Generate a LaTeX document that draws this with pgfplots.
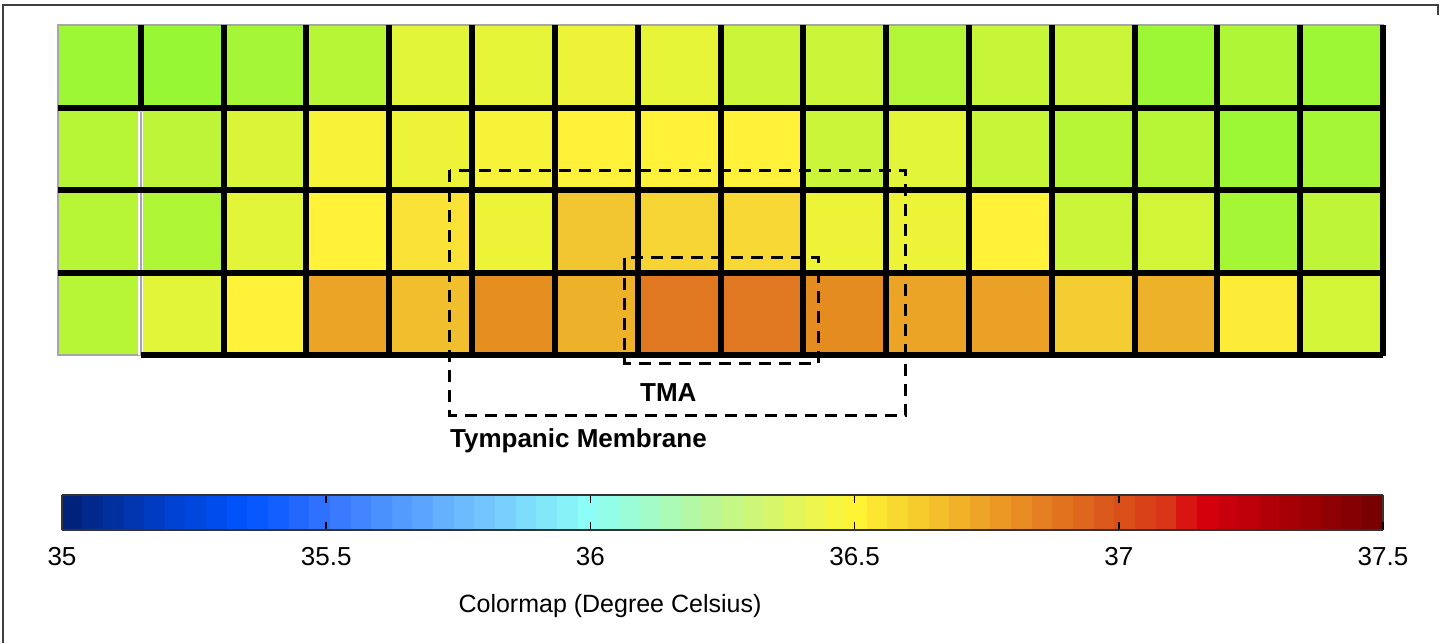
\documentclass[border=0pt]{standalone}
\usepackage{pgfplots}
\pgfplotsset{compat=1.18}
\usepackage{fontspec}
\setmainfont{Liberation Sans}
\pgfplotsset{
  colormap={cells}{rgb=(0.58,0.97,0.20) rgb=(0.75,0.96,0.22) rgb=(0.90,0.96,0.22) rgb=(1.00,0.95,0.22) rgb=(0.96,0.82,0.20) rgb=(0.93,0.68,0.16) rgb=(0.90,0.56,0.13) rgb=(0.87,0.46,0.13)},
  colormap={tempjet}{rgb(0pt)=(0,0.12,0.45) rgb(20pt)=(0,0.25,0.8) rgb(35pt)=(0,0.33,1) rgb(50pt)=(0.2,0.45,1) rgb(75pt)=(0.42,0.72,1) rgb(100pt)=(0.55,1,0.97) rgb(125pt)=(0.75,0.97,0.55) rgb(150pt)=(1,0.96,0.2) rgb(175pt)=(0.93,0.63,0.15) rgb(200pt)=(0.85,0.32,0.1) rgb(210pt)=(0.85,0.2,0.1) rgb(215pt)=(0.85,0,0.05) rgb(250pt)=(0.45,0,0)},
}
\begin{document}
\begin{tikzpicture}
\useasboundingbox (0,0) rectangle (722.5pt,321.5pt);
\draw[black!75, line width=0.6pt] (1.5pt,0) -- (1.5pt,319pt) -- (719pt,319pt) -- (719pt,314pt);
% heatmap
\begin{axis}[at={(29pt,144pt)}, anchor=south west, scale only axis,
  width=662.5pt, height=165pt, hide axis, clip=false,
  xmin=0, xmax=16, ymin=0, ymax=4,
  colormap name=cells, point meta min=36.2, point meta max=36.9]
\addplot[matrix plot*, mesh/cols=16, point meta=explicit] table[meta=t] {
x y t
0.5 0.5 36.28
1.5 0.5 36.39
2.5 0.5 36.50
3.5 0.5 36.73
4.5 0.5 36.65
5.5 0.5 36.80
6.5 0.5 36.69
7.5 0.5 36.89
8.5 0.5 36.89
9.5 0.5 36.81
10.5 0.5 36.73
11.5 0.5 36.74
12.5 0.5 36.61
13.5 0.5 36.69
14.5 0.5 36.52
15.5 0.5 36.35
0.5 1.5 36.28
1.5 1.5 36.26
2.5 1.5 36.39
3.5 1.5 36.50
4.5 1.5 36.55
5.5 1.5 36.43
6.5 1.5 36.63
7.5 1.5 36.59
8.5 1.5 36.58
9.5 1.5 36.43
10.5 1.5 36.43
11.5 1.5 36.50
12.5 1.5 36.33
13.5 1.5 36.35
14.5 1.5 36.24
15.5 1.5 36.30
0.5 2.5 36.28
1.5 2.5 36.30
2.5 2.5 36.37
3.5 2.5 36.47
4.5 2.5 36.43
5.5 2.5 36.47
6.5 2.5 36.50
7.5 2.5 36.50
8.5 2.5 36.50
9.5 2.5 36.33
10.5 2.5 36.39
11.5 2.5 36.32
12.5 2.5 36.28
13.5 2.5 36.28
14.5 2.5 36.22
15.5 2.5 36.24
0.5 3.5 36.22
1.5 3.5 36.21
2.5 3.5 36.24
3.5 3.5 36.28
4.5 3.5 36.39
5.5 3.5 36.40
6.5 3.5 36.43
7.5 3.5 36.40
8.5 3.5 36.33
9.5 3.5 36.33
10.5 3.5 36.27
11.5 3.5 36.32
12.5 3.5 36.33
13.5 3.5 36.22
14.5 3.5 36.26
15.5 3.5 36.22
};
% grid lines
\draw[gray!70, line width=1pt] (axis cs:0,0) rectangle (axis cs:16,4);
\pgfplotsinvokeforeach{2,...,15}{\draw[black, line width=3pt] (axis cs:#1,0) -- (axis cs:#1,4);}
\draw[black, line width=3pt] (axis cs:1,3) -- (axis cs:1,4);
\draw[white, line width=2.5pt] (axis cs:1,0) -- (axis cs:1,2.95);
\draw[gray!70, line width=0.7pt] (axis cs:1,0) -- (axis cs:1,2.95);
\pgfplotsinvokeforeach{1,2,3}{\draw[black, line width=3pt] (axis cs:0,#1) -- (axis cs:16,#1);}
\draw[black, line width=3pt] (axis cs:16,-0.018) -- (axis cs:16,4);
\draw[black, line width=3pt] (axis cs:1,0) -- (axis cs:16,0);
% dashed regions
\draw[black, line width=1.6pt, dash pattern=on 6pt off 4pt] (axis cs:4.73,2.24) rectangle (axis cs:10.23,-0.73);
\draw[black, line width=1.6pt, dash pattern=on 6pt off 4pt] (axis cs:6.84,1.18) rectangle (axis cs:9.18,-0.10);
\node[font=\fontsize{13}{15}\selectfont\bfseries] at (axis cs:7.37,-0.45) {TMA};
\node[font=\fontsize{13}{15}\selectfont\bfseries, anchor=west, inner sep=0pt] at (axis cs:4.73,-1.04) {Tympanic Membrane};
\end{axis}
% colorbar
\begin{axis}[at={(31pt,56.5pt)}, anchor=south west, scale only axis,
  width=660.5pt, height=17.5pt, hide axis,
  xmin=0, xmax=1, ymin=0, ymax=1,
  colormap name=tempjet, point meta min=35, point meta max=37.5,
  colorbar horizontal, colorbar sampled,
  colorbar style={at={(0,0)}, anchor=south west, scale only axis,
    width=660.5pt, height=17.5pt, samples=65,
    xtick={35,35.5,36,36.5,37,37.5}, tick align=inside, major tick length=4pt,
    xtick pos=both, xticklabel pos=lower,
    tick style={black, line width=0.8pt},
    axis line style={black!80, line width=0.6pt},
    /pgf/number format/assume math mode=true,
    xticklabel style={font=\fontsize{13}{15}\selectfont, yshift=-5pt}}]
\addplot[draw=none] coordinates {(0,0)};
\end{axis}
\node[font=\fontsize{12.5}{14}\selectfont] at (305pt,18.5pt) {Colormap (Degree Celsius)};
\end{tikzpicture}
\end{document}
